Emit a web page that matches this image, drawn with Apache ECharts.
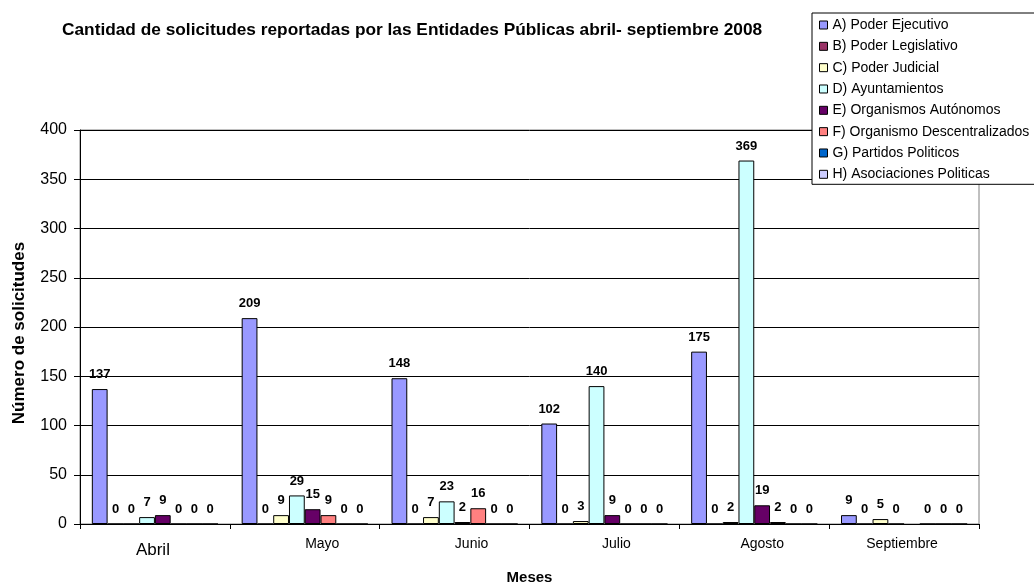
<!DOCTYPE html>
<html>
<head>
<meta charset="utf-8">
<script src="https://cdn.jsdelivr.net/npm/echarts@6/dist/echarts.min.js"></script>
<style>
html,body{margin:0;padding:0;background:#fff;}
#c{width:1034px;height:585px;}
</style>
</head>
<body>
<div id="c"></div>
<script>
const categories = ['Abril', 'Mayo', 'Junio', 'Julio', 'Agosto', 'Septiembre'];
const seriesNames = [
  'A) Poder Ejecutivo',
  'B) Poder Legislativo',
  'C) Poder Judicial',
  'D) Ayuntamientos',
  'E) Organismos Autónomos',
  'F) Organismo Descentralizados',
  'G) Partidos Politicos',
  'H) Asociaciones Politicas'
];
const poderEjecutivo = [137, 209, 148, 102, 175, 9];
const poderLegislativo = [0, 0, 0, 0, 0, 0];
const poderJudicial = [0, 9, 7, 3, 2, 5];
const ayuntamientos = [7, 29, 23, 140, 369, 0];
const organismosAutonomos = [9, 15, 2, 9, 19, null];
const organismoDescentralizados = [0, 9, 16, 0, 2, 0];
const partidosPoliticos = [0, 0, 0, 0, 0, 0];
const asociacionesPoliticas = [0, 0, 0, 0, 0, 0];
const yTicks = { min: 0, max: 400, interval: 50 };

const seriesData = [poderEjecutivo, poderLegislativo, poderJudicial, ayuntamientos,
  organismosAutonomos, organismoDescentralizados, partidosPoliticos, asociacionesPoliticas];
const colors = ['#9999FF', '#993366', '#FFFFCC', '#CCFFFF', '#660066', '#FF8080', '#0066CC', '#CCCCFF'];

const FONT = 'Liberation Sans, Arial, sans-serif';
const chart = echarts.init(document.getElementById('c'), null, { renderer: 'canvas' });

const labelRich = {
  l0: { fontSize: 17, padding: [5, 4, 0, 0], fontFamily: FONT, color: '#000' },
  l1: { fontSize: 14, padding: [0, 0, 0, 35], fontFamily: FONT, color: '#000' },
  l2: { fontSize: 14, padding: [0, 0, 0, 34], fontFamily: FONT, color: '#000' },
  l3: { fontSize: 14, padding: [0, 0, 0, 24], fontFamily: FONT, color: '#000' },
  l4: { fontSize: 14, padding: [0, 0, 0, 16], fontFamily: FONT, color: '#000' },
  l5: { fontSize: 14, padding: [0, 4, 0, 0], fontFamily: FONT, color: '#000' }
};

const option = {
  animation: false,
  backgroundColor: '#fff',
  color: colors,
  title: {
    text: 'Cantidad de solicitudes reportadas por las Entidades Públicas abril- septiembre 2008',
    left: 62, top: 22, padding: 0,
    textStyle: { fontFamily: FONT, fontWeight: 'bold', fontSize: 17.3, color: '#000' }
  },
  legend: {
    orient: 'vertical',
    left: 812, top: 13,
    padding: [4, 30, 2, 7],
    backgroundColor: '#fff',
    borderColor: '#000', borderWidth: 1,
    itemWidth: 8, itemHeight: 8, itemGap: 5.33,
    icon: 'rect',
    itemStyle: { borderColor: '#000', borderWidth: 1 },
    textStyle: { fontFamily: FONT, fontSize: 14, color: '#000', lineHeight: 16 },
    data: seriesNames
  },
  grid: {
    left: 80, right: 55, top: 130, bottom: 61,
    outerBoundsMode: 'none',
    containLabel: false,
    show: true, borderColor: '#808080', borderWidth: 1, backgroundColor: 'transparent'
  },
  xAxis: {
    type: 'category',
    data: categories,
    name: 'Meses',
    nameLocation: 'middle',
    nameGap: 46,
    nameTextStyle: { fontFamily: FONT, fontWeight: 'bold', fontSize: 15, color: '#000' },
    axisLine: { lineStyle: { color: '#000', width: 1 } },
    axisTick: { show: true, length: 5, lineStyle: { color: '#000' } },
    axisLabel: {
      margin: 13,
      interval: 0,
      formatter: function (v, i) { return '{l' + i + '|' + v + '}'; },
      rich: labelRich
    }
  },
  yAxis: {
    type: 'value',
    min: yTicks.min, max: yTicks.max, interval: yTicks.interval,
    name: 'Número de solicitudes',
    nameLocation: 'middle',
    nameGap: 52,
    nameRotate: 90,
    nameTextStyle: { fontFamily: FONT, fontWeight: 'bold', fontSize: 17, color: '#000', padding: [0, 12, 0, 0] },
    axisLine: { show: true, lineStyle: { color: '#000', width: 1 } },
    axisTick: { show: true, length: 6, lineStyle: { color: '#000' } },
    axisLabel: { margin: 13, fontFamily: FONT, fontSize: 16, color: '#000' },
    splitLine: { show: true, lineStyle: { color: '#000', width: 1 } }
  },
  series: seriesNames.map(function (name, i) {
    return {
      name: name,
      type: 'bar',
      data: seriesData[i],
      barGap: '0%',
      barCategoryGap: '15.8%',
      itemStyle: { color: colors[i], borderColor: '#000', borderWidth: 1 },
      label: {
        show: true, position: 'top', distance: 8,
        fontFamily: FONT, fontWeight: 'bold', fontSize: 13, color: '#000'
      }
    };
  })
};
chart.setOption(option);
</script>
</body>
</html>
